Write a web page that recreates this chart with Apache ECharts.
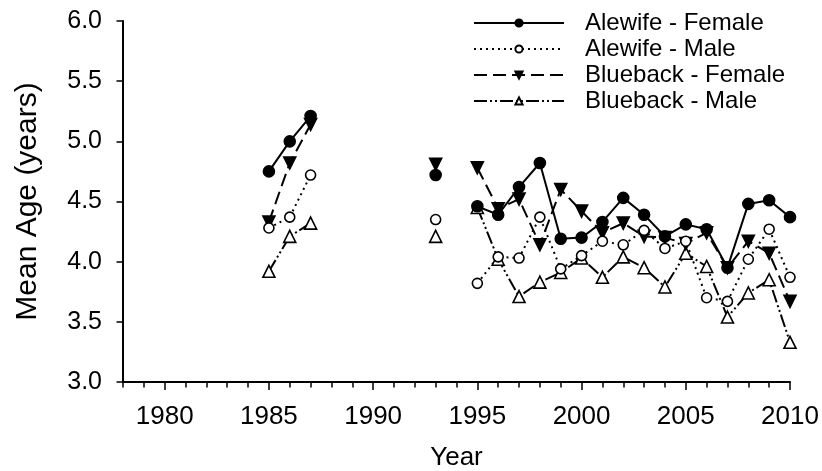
<!DOCTYPE html>
<html>
<head>
<meta charset="utf-8">
<script src="https://cdn.jsdelivr.net/npm/echarts@6/dist/echarts.min.js"></script>
<style>
  html, body { margin: 0; padding: 0; background: #fff; }
  #chart { width: 822px; height: 471px; }
</style>
</head>
<body>
<div id="chart"></div>
<script>
var years = [1985, 1986, 1987, 1988, 1989, 1990, 1991, 1992, 1993, 1994, 1995, 1996, 1997,
  1998, 1999, 2000, 2001, 2002, 2003, 2004, 2005, 2006, 2007, 2008, 2009, 2010];
var alewifeFemale = [4.75, 5.00, 5.21, null, null, null, null, null, 4.72, null, 4.46, 4.39, 4.62,
  4.82, 4.19, 4.20, 4.33, 4.53, 4.39, 4.21, 4.31, 4.27, 3.95, 4.48, 4.51, 4.37];
var alewifeMale = [4.28, 4.37, 4.72, null, null, null, null, null, 4.35, null, 3.82, 4.04, 4.03,
  4.37, 3.94, 4.05, 4.17, 4.14, 4.26, 4.11, 4.17, 3.70, 3.67, 4.02, 4.27, 3.87];
var bluebackFemale = [4.33, 4.82, 5.14, null, null, null, null, null, 4.81, null, 4.78, 4.44, 4.52,
  4.14, 4.60, 4.42, 4.24, 4.32, 4.21, 4.20, 4.15, 4.24, 3.95, 4.17, 4.07, 3.67];
var bluebackMale = [3.92, 4.21, 4.32, null, null, null, null, null, 4.21, null, 4.45, 4.02, 3.71,
  3.83, 3.91, 4.03, 3.87, 4.04, 3.95, 3.79, 4.07, 3.96, 3.54, 3.74, 3.85, 3.33];
var xLabels = [1980, 1985, 1990, 1995, 2000, 2005, 2010];

var font = "'Liberation Sans', Arial, sans-serif";

function pairs(vals) {
  return years.map(function (y, i) { return [y, vals[i]]; });
}

function makeSeries(name, vals, symbol, rotate, size, filled, dash) {
  return {
    name: name,
    type: "line",
    data: pairs(vals),
    symbol: symbol,
    symbolRotate: rotate,
    symbolSize: size,
    showAllSymbol: true,
    connectNulls: false,
    lineStyle: { color: "#000", width: 2, type: dash },
    itemStyle: {
      color: filled ? "#000" : "#fff",
      borderColor: "#000",
      borderWidth: 1.6
    },
    emphasis: { disabled: true }
  };
}

var myChart = echarts.init(document.getElementById("chart"));
var option = {
  backgroundColor: "#fff",
  animation: false,
  grid: { left: 123, right: 32, top: 21, bottom: 89, containLabel: false, outerBoundsMode: "none" },
  legend: {
    orient: "vertical",
    left: 468,
    top: 6,
    itemWidth: 90,
    itemHeight: 9,
    itemGap: 2,
    textStyle: { fontFamily: font, fontSize: 24, color: "#000", padding: [0, 0, 0, 16] },
    data: ["Alewife - Female", "Alewife - Male", "Blueback - Female", "Blueback - Male"]
  },
  xAxis: [
    {
      type: "value",
      min: 1978,
      max: 2010,
      interval: 1,
      name: "Year",
      nameLocation: "middle",
      nameGap: 63,
      nameTextStyle: { fontFamily: font, fontSize: 26, color: "#000" },
      axisLine: { show: true, lineStyle: { color: "#000", width: 2 } },
      axisTick: { show: true, length: 5.5, lineStyle: { color: "#000", width: 1.5 } },
      axisLabel: { show: false },
      splitLine: { show: false }
    },
    {
      type: "value",
      min: 1978,
      max: 2010,
      position: "bottom",
      axisLine: { show: false },
      axisTick: { show: true, length: 8, customValues: xLabels, lineStyle: { color: "#000", width: 1.5 } },
      axisLabel: {
        fontFamily: font, fontSize: 26, color: "#000", margin: 22,
        customValues: xLabels,
        formatter: function (v) { return String(v); }
      },
      splitLine: { show: false }
    }
  ],
  yAxis: {
    type: "value",
    min: 3,
    max: 6,
    interval: 0.5,
    name: "Mean Age (years)",
    nameLocation: "middle",
    nameGap: 80,
    nameTextStyle: { fontFamily: font, fontSize: 30, color: "#000" },
    axisLine: { show: true, lineStyle: { color: "#000", width: 2 } },
    axisTick: { show: true, length: 6.5, lineStyle: { color: "#000", width: 1.5 } },
    axisLabel: {
      fontFamily: font, fontSize: 25, color: "#000", margin: 21,
      formatter: function (v) { return v.toFixed(1); }
    },
    splitLine: { show: false }
  },
  series: [
    makeSeries("Blueback - Male", bluebackMale, "triangle", 0, 12, false, [13, 3, 2, 3, 2, 3]),
    makeSeries("Blueback - Female", bluebackFemale, "triangle", 180, 12, true, [13, 6]),
    makeSeries("Alewife - Male", alewifeMale, "circle", 0, 10, false, [2, 4]),
    makeSeries("Alewife - Female", alewifeFemale, "circle", 0, 11, true, "solid")
  ]
};
option && myChart.setOption(option);
</script>
</body>
</html>
